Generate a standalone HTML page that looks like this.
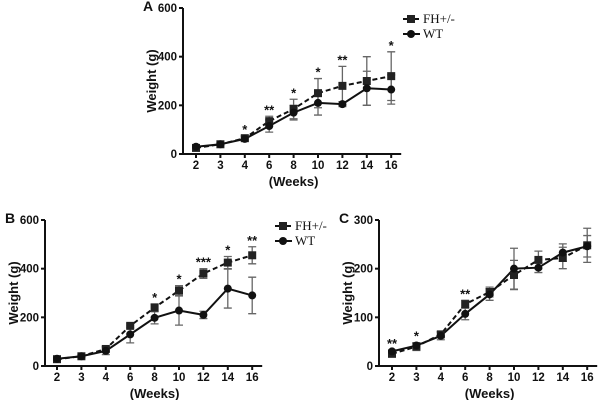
<!DOCTYPE html>
<html><head><meta charset="utf-8"><style>
body{margin:0;background:#fff}
svg{display:block}
text{font-family:"Liberation Sans",Arial,sans-serif;font-weight:bold;fill:#111}
.leg{font-family:"Liberation Serif",serif;font-weight:normal;font-size:13px}
</style></head><body>
<svg id="chart" width="600" height="400" viewBox="0 0 600 400"></svg>
<script>
const weeks=["2","3","4","6","8","10","12","14","16"];
const aFH=[25,40,65,135,185,250,280,300,320];
const aFHerr=[5,5,10,20,40,60,80,100,100];
const aWT=[30,40,62,115,170,210,205,270,265];
const aWTerr=[5,5,10,25,30,50,10,70,60];
const aStars=["","","*","**","*","*","**","","*"];
const bFH=[28,40,70,165,240,310,380,425,455];
const bFHerr=[5,5,10,8,15,20,20,25,35];
const bWT=[30,40,62,130,198,228,210,318,290];
const bWTerr=[5,5,15,35,25,60,15,80,75];
const bStars=["","","","","*","*","***","*","**"];
const cFH=[25,40,65,127,152,187,218,222,248];
const cFHerr=[5,8,5,8,10,30,18,22,35];
const cWT=[30,42,62,107,147,200,202,233,246];
const cWTerr=[3,5,8,12,12,42,10,18,22];
const cStars=["**","*","","**","","","","",""];
const aTicks=[0,200,400,600], bTicks=[0,200,400,600], cTicks=[0,100,200,300];

const NS="http://www.w3.org/2000/svg";
const svg=document.getElementById('chart');
function el(tag,attrs,parent,txt){const e=document.createElementNS(NS,tag);for(const k in attrs)e.setAttribute(k,attrs[k]);if(txt!==undefined)e.textContent=txt;(parent||svg).appendChild(e);return e;}

function panel(cfg){
  const g=el('g',{});
  
  
  const yMax=cfg.ticks[cfg.ticks.length-1];
  const y=v=>cfg.y0-(v/yMax)*(cfg.y0-cfg.yTop);
  const x=i=>cfg.x2+i*cfg.dx;
  const lbl=el('text',{x:cfg.ax-40,y:cfg.yTop+3,'font-size':14},g,cfg.id);
  
  
  const axes=el('path',{d:`M${cfg.ax},${cfg.yTop} V${cfg.y0} H${x(8)+10}`,stroke:'#111','stroke-width':2,fill:'none'},g);
  
  
  cfg.ticks.forEach(t=>{
    el('line',{x1:cfg.ax-4,x2:cfg.ax,y1:y(t),y2:y(t),stroke:'#111','stroke-width':2},g);
    const tl=el('text',{x:cfg.ax-6,y:y(t)+4,'text-anchor':'end','font-size':11.5},g,t);
    
    
  });
  weeks.forEach((w,i)=>{
    el('line',{x1:x(i),x2:x(i),y1:cfg.y0,y2:cfg.y0+4,stroke:'#111','stroke-width':2},g);
    const tl=el('text',{x:x(i),y:cfg.y0+15,'text-anchor':'middle','font-size':11.5},g,w);
    
    
  });
  const xt=el('text',{x:x(4),y:cfg.y0+32,'text-anchor':'middle','font-size':13},g,'(Weeks)');
  
  
  const yc=(cfg.y0+cfg.yTop)/2;
  const yt=el('text',{x:cfg.ax-27,y:yc,'text-anchor':'middle','font-size':13,transform:`rotate(-90 ${cfg.ax-27} ${yc})`},g,'Weight (g)');
  
  
  [[cfg.fh,cfg.fhe],[cfg.wt,cfg.wte]].forEach(([vals,errs])=>{
    vals.forEach((v,i)=>{
      const e=el('path',{d:`M${x(i)},${y(v-errs[i])}V${y(v+errs[i])}M${x(i)-4},${y(v-errs[i])}h8M${x(i)-4},${y(v+errs[i])}h8`,stroke:'#666','stroke-width':1.3,fill:'none'},g);
      
      
    });
  });
  const fl=el('polyline',{points:cfg.fh.map((v,i)=>x(i)+','+y(v)).join(' '),stroke:'#111','stroke-width':2,'stroke-dasharray':'5,3',fill:'none'},g);
  
  
  const wl=el('polyline',{points:cfg.wt.map((v,i)=>x(i)+','+y(v)).join(' '),stroke:'#111','stroke-width':2,fill:'none'},g);
  
  
  cfg.fh.forEach((v,i)=>{
    const m=el('rect',{x:x(i)-4,y:y(v)-4,width:8,height:8,fill:'#222'},g);
    
    
  });
  cfg.wt.forEach((v,i)=>{
    const m=el('circle',{cx:x(i),cy:y(v),r:4,fill:'#111'},g);
    
    
  });
  cfg.stars.forEach((s,i)=>{
    if(!s)return;
    const top=Math.max(cfg.fh[i]+cfg.fhe[i],cfg.wt[i]+cfg.wte[i]);
    const st=el('text',{x:x(i),y:y(top)-2,'text-anchor':'middle','font-size':13,fill:'#333'},g,s);
    
    
  });
  if(cfg.leg){
    const [lx,ly]=cfg.leg;
    const l1=el('g',{},g);
    
    
    el('line',{x1:lx,x2:lx+17,y1:ly,y2:ly,stroke:'#111','stroke-width':2,'stroke-dasharray':'4,2'},l1);
    el('rect',{x:lx+4,y:ly-4,width:8,height:8,fill:'#222'},l1);
    el('text',{x:lx+20,y:ly+4,class:'leg'},l1,'FH+/-');
    const l2=el('g',{},g);
    
    
    el('line',{x1:lx,x2:lx+17,y1:ly+15,y2:ly+15,stroke:'#111','stroke-width':2},l2);
    el('circle',{cx:lx+8,cy:ly+15,r:4,fill:'#111'},l2);
    el('text',{x:lx+20,y:ly+19,class:'leg'},l2,'WT');
  }
}
panel({id:'A',ax:183,yTop:8,y0:154,x2:196,dx:24.4,ticks:aTicks,fh:aFH,fhe:aFHerr,wt:aWT,wte:aWTerr,stars:aStars,leg:[403,19]});
panel({id:'B',ax:45,yTop:220,y0:366,x2:57,dx:24.4,ticks:bTicks,fh:bFH,fhe:bFHerr,wt:bWT,wte:bWTerr,stars:bStars,leg:[275,226]});
panel({id:'C',ax:379,yTop:220,y0:366,x2:392,dx:24.4,ticks:cTicks,fh:cFH,fhe:cFHerr,wt:cWT,wte:cWTerr,stars:cStars});
</script>
</body></html>
